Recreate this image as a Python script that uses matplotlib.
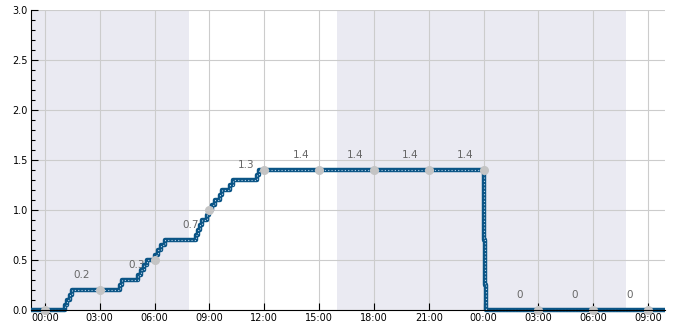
import matplotlib
matplotlib.use('Agg')
import matplotlib.pyplot as plt
import matplotlib.dates as mdates
import numpy as np
import pandas as pd

# step series: time of change and new value
times = ['2024-01-01 23:14',
         '2024-01-02 01:05', '2024-01-02 01:13', '2024-01-02 01:21', '2024-01-02 01:30',
         '2024-01-02 04:06', '2024-01-02 04:14',
         '2024-01-02 05:06', '2024-01-02 05:15', '2024-01-02 05:24', '2024-01-02 05:35',
         '2024-01-02 06:03', '2024-01-02 06:12', '2024-01-02 06:22', '2024-01-02 06:33',
         '2024-01-02 08:16', '2024-01-02 08:23', '2024-01-02 08:30', '2024-01-02 08:37',
         '2024-01-02 08:52', '2024-01-02 09:00', '2024-01-02 09:09', '2024-01-02 09:17',
         '2024-01-02 09:35', '2024-01-02 09:43',
         '2024-01-02 10:08', '2024-01-02 10:16',
         '2024-01-02 11:35', '2024-01-02 11:44',
         '2024-01-03 00:01', '2024-01-03 00:03', '2024-01-03 00:05', '2024-01-03 00:07',
         '2024-01-03 09:56']
values = [0.0,
          0.05, 0.1, 0.15, 0.2,
          0.25, 0.3,
          0.35, 0.4, 0.45, 0.5,
          0.55, 0.6, 0.65, 0.7,
          0.75, 0.8, 0.85, 0.9,
          0.95, 1.0, 1.05, 1.1,
          1.15, 1.2,
          1.25, 1.3,
          1.35, 1.4,
          1.15, 0.7, 0.25, 0.0,
          0.0]

# shaded night periods
shade_start = ['2024-01-01 23:14', '2024-01-02 16:00']
shade_end = ['2024-01-02 07:52', '2024-01-03 07:48']

marker_times = pd.date_range('2024-01-02 00:00', '2024-01-03 09:00', freq='3h')

t = pd.to_datetime(times)
v = np.array(values)


def value_at(ts):
    idx = np.searchsorted(t.values, np.datetime64(ts), side='right') - 1
    return v[max(idx, 0)]


fig = plt.figure(figsize=(6.85, 3.3), dpi=100)
ax = fig.add_axes([0.045, 0.0606, 0.926, 0.909])

for s, e in zip(shade_start, shade_end):
    ax.axvspan(pd.Timestamp(s), pd.Timestamp(e), color='#eaeaf2', lw=0, zorder=0)

ax.plot(t, v, drawstyle='steps-post', color='#0b5586', lw=3.2, zorder=3,
        solid_capstyle='butt', clip_on=False)
ax.plot(t, v, drawstyle='steps-post', color='#b9d2e6', lw=0.8, ls=(0, (1, 2)),
        zorder=4, clip_on=False)

mv = [value_at(m) for m in marker_times]
ax.plot(marker_times, mv, 'o', color='#c4c4c4', ms=5.5, zorder=5, clip_on=False)

for m in marker_times:
    lt = m - pd.Timedelta(hours=1)
    if lt < t[0]:
        continue
    lv = value_at(lt)
    ax.text(lt, lv + 0.15, f'{lv:g}', color='#666666', fontsize=7.5,
            ha='center', va='center', zorder=2)

ax.set_xlim(t[0], t[-1])
ax.set_ylim(0, 3)
ax.xaxis.set_major_locator(mdates.HourLocator(byhour=range(0, 24, 3)))
ax.xaxis.set_major_formatter(mdates.DateFormatter('%H:%M'))
ax.set_yticks(np.arange(0, 3.01, 0.5))
ax.set_yticks(np.arange(0, 3.01, 0.1), minor=True)
ax.tick_params(axis='both', which='both', direction='in', labelsize=7, pad=2)
ax.tick_params(axis='both', which='major', length=5, width=0.8)
ax.tick_params(axis='y', which='minor', length=3, width=0.8)
ax.grid(True, which='major', color='#cccccc', lw=0.8, zorder=1)
ax.set_axisbelow(True)

for side in ['top', 'right']:
    ax.spines[side].set_visible(False)
ax.spines['left'].set_linewidth(0.8)
ax.spines['bottom'].set_linewidth(0.8)
ax.spines['bottom'].set_zorder(6)
ax.yaxis.set_major_formatter(matplotlib.ticker.FormatStrFormatter('%.1f'))

fig.savefig('out.png', dpi=100)
